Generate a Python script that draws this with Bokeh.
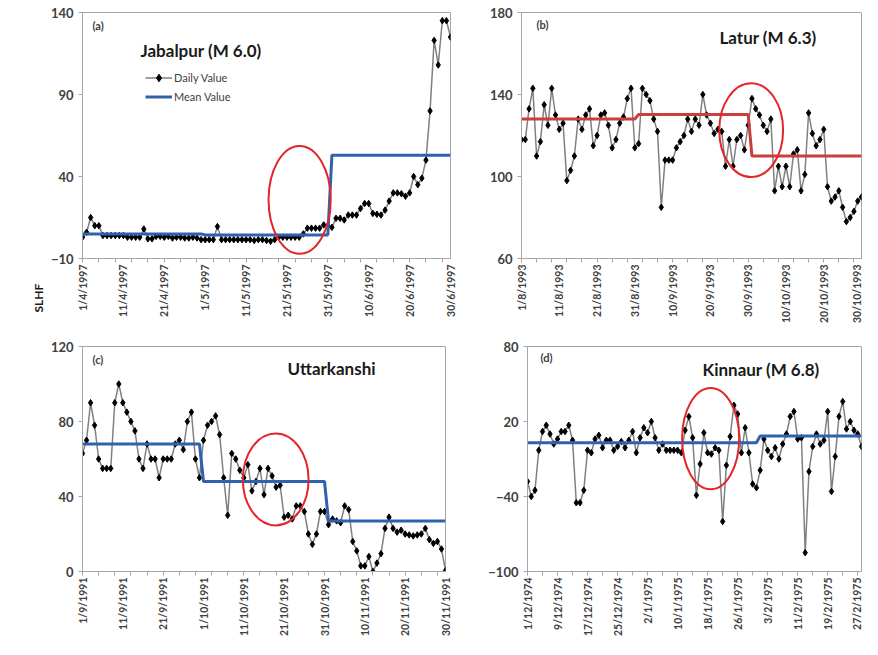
from math import pi
from bokeh.plotting import figure
from bokeh.models import Range1d, FixedTicker, Label, Legend, LegendItem, Title
from bokeh.layouts import column, row
from bokeh.embed import file_html
from bokeh.resources import INLINE

# ---------------- data ----------------
# (a) Jabalpur, 1/4/1997 - 30/6/1997
a_daily = [3, 6, 15, 10, 10, 4, 4, 4, 4, 4, 4, 3, 3, 3, 3, 8, 2, 2,
           3.5, 3.5, 3, 3.5, 2.5, 3, 3, 2.5, 2.5, 3, 2.5,
           1.5, 1.5, 1.5, 1.5, 9.5, 1.5, 1.5, 1.5, 1.5, 1.5, 1.5, 1.5,
           1.5, 1, 1.5, 1.5, 1, 0.5, 1.5, 3, 3, 3, 3, 3, 3, 5,
           8.5, 8.5, 8.5, 8.5, 10.5, 10, 9, 14.5, 14.5, 13.5, 16.5, 16.5, 16.5,
           20.5, 23.5, 23.5, 17.5, 17, 16.5, 19.5, 25, 30, 30, 29.5, 28, 30,
           40, 35, 39, 50, 80, 123, 108, 135, 135, 125]
a_mean = [5] * 30 + [4.3] * 31 + [53] * 30
a_tick_pos = [0, 10, 20, 30, 40, 50, 60, 70, 80, 90]
a_tick_labels = ["1/4/1997", "11/4/1997", "21/4/1997", "1/5/1997", "11/5/1997",
                 "21/5/1997", "31/5/1997", "10/6/1997", "20/6/1997", "30/6/1997"]
a_yticks = [-10, 40, 90, 140]
a_ellipse = [53.1, 25.8, 15.2, 65.7]

# (b) Latur, 1/8/1993 - 30/10/1993
b_daily = [118, 118, 133, 143, 110, 117, 135, 125, 143, 130, 123, 126, 98, 103, 110,
           128, 123, 130, 133, 115, 120, 130, 131, 125, 114, 118, 126, 129, 138, 143,
           114, 116, 143, 140, 137, 128, 122, 85, 108, 108, 108, 114, 117, 120, 128,
           122, 128, 125, 140, 130, 126, 121, 123, 122, 105, 118, 105, 118, 120, 113,
           125, 138, 133, 130, 125, 122, 128, 93, 105, 95, 105, 95, 111, 113, 93,
           101, 131, 121, 115, 118, 123, 95, 88, 90, 93, 85, 78, 80, 83, 88, 90]
b_mean = [128] * 31 + [130.3] * 30 + [110] * 30
b_tick_pos = [0, 10, 20, 30, 40, 50, 60, 70, 80, 90]
b_tick_labels = ["1/8/1993", "11/8/1993", "21/8/1993", "31/8/1993", "10/9/1993",
                 "20/9/1993", "30/9/1993", "10/10/1993", "20/10/1993", "30/10/1993"]
b_yticks = [60, 100, 140, 180]
b_ellipse = [60.8, 122.6, 16.9, 45.8]

# (c) Uttarkanshi, 1/9/1991 - 30/11/1991
c_daily = [63, 70, 90, 78, 60, 55, 55, 55, 90, 100, 90, 85, 80, 75, 60, 55, 68, 60, 60,
           50, 60, 60, 60, 68, 70, 65, 80, 85, 60, 50, 70, 78, 80, 83, 73, 50, 30, 63,
           60, 54, 50, 57, 43, 48, 55, 41, 55, 51, 45, 46, 29, 30, 28, 35, 35, 32, 20,
           14.5, 20, 32, 32, 25, 28, 27, 26, 35, 33, 16, 11, 3, 3, 8, 0, 4.5, 9.5, 23,
           29, 23, 21, 22, 20, 19.5, 19, 19.5, 20, 23, 17, 15, 16, 12, 0.5]
c_mean = [68] * 30 + [48] * 31 + [27] * 30
c_tick_pos = [0, 10, 20, 30, 40, 50, 60, 70, 80, 90]
c_tick_labels = ["1/9/1991", "11/9/1991", "21/9/1991", "1/10/1991", "11/10/1991",
                 "21/10/1991", "31/10/1991", "10/11/1991", "20/11/1991", "30/11/1991"]
c_yticks = [0, 40, 80, 120]
c_ellipse = [47.9, 49.1, 16.3, 49]

# (d) Kinnaur, 1/12/1974 - 28/2/1975
d_daily = [-28, -40, -35, -3, 12, 17, 10, 2, 6, 12, 12, 17, 5, -45, -45, -35, -3, -5,
           6, 9, -1, 5, 5, -3, 0, 4, -1, 5, 12, -5, 7, 15, 11, 20, 7, -3, 2, -3, -3,
           -3, -3, -5, 13, 24, 7, -39, -14, 11, -5, -6, -1, -3, -60, -15, 8, 33, 26,
           -5, 15, -5, -30, -33, -19, 6, -3, -8, -1, -10, 2, 10, 24, 28, 6, 7, -85,
           -20, 0, 10, 2, 5, 28, -36, -8, 24, 36, 14, 20, 13, 10, 0]
d_mean = [3] * 62 + [8.5] * 28
d_tick_pos = [0, 8, 16, 24, 32, 40, 48, 56, 64, 72, 80, 88]
d_tick_labels = ["1/12/1974", "9/12/1974", "17/12/1974", "25/12/1974", "2/1/1975",
                 "10/1/1975", "18/1/1975", "26/1/1975", "3/2/1975", "11/2/1975",
                 "19/2/1975", "27/2/1975"]
d_yticks = [-100, -40, 20, 80]
d_ellipse = [48.8, 6.3, 15.2, 81]

FONT = "Lato"
GRAY = "#a6a6a6"
TXT = "#404040"


def make_panel(daily, mean, tick_pos, tick_labels, yticks, ellipse, mean_color,
               width, height, mbl, mbr, mbt, mbb):
    n = len(daily)
    xs = list(range(n))
    xr = (0, n - 1)
    yr = (yticks[0], yticks[-1])
    p = figure(width=width, height=height, output_backend="svg", toolbar_location=None,
               x_range=Range1d(*xr), y_range=Range1d(*yr),
               min_border_left=mbl, min_border_right=mbr,
               min_border_top=mbt, min_border_bottom=mbb)
    p.xgrid.visible = False
    p.ygrid.visible = False
    p.outline_line_color = GRAY
    p.outline_line_width = 1
    p.background_fill_color = "white"
    p.border_fill_color = "white"

    xa = p.xaxis[0]
    xa.ticker = FixedTicker(ticks=tick_pos, minor_ticks=list(range(0, n, 4)))
    xa.major_label_overrides = {t: l for t, l in zip(tick_pos, tick_labels)}
    xa.major_label_orientation = pi / 2
    xa.major_label_text_font = FONT
    xa.major_label_text_font_style = "bold"
    xa.major_label_text_font_size = "10.5px"
    xa.major_label_text_color = TXT
    xa.major_label_standoff = 2
    xa.major_tick_line_color = None
    xa.major_tick_out = 3
    xa.major_tick_in = 0
    xa.minor_tick_line_color = GRAY
    xa.minor_tick_out = 4
    xa.minor_tick_in = 0
    xa.axis_line_color = GRAY

    ya = p.yaxis[0]
    ya.ticker = FixedTicker(ticks=yticks, minor_ticks=[])
    ya.major_label_text_font = FONT
    ya.major_label_text_font_style = "bold"
    ya.major_label_text_font_size = "13px"
    ya.major_label_text_color = TXT
    ya.major_tick_line_color = GRAY
    ya.major_tick_out = 4
    ya.major_tick_in = 0
    ya.major_label_standoff = 5
    ya.axis_line_color = GRAY

    r_line = p.line(xs, daily, line_color="#808080", line_width=1.5)
    r_pts = p.scatter(xs, daily, marker="diamond", size=6.5, fill_color="black",
                      line_color="black")
    r_mean = p.line(xs, mean, line_color=mean_color, line_width=3)
    cx, cy, w, h = ellipse
    p.ellipse(x=[cx], y=[cy], width=[w], height=[h], fill_color=None,
              line_color="#e3262b", line_width=2)

    fw = width - mbl - mbr
    fh = height - mbt - mbb

    def data_at(px, py):
        return (xr[0] + px / fw * (xr[1] - xr[0]),
                yr[1] - py / fh * (yr[1] - yr[0]))

    return p, (r_line, r_pts, r_mean), data_at, fw, fh


def add_text(p, pos, text, size, color, bold=True, angle=0, align="left"):
    p.add_layout(Label(x=pos[0], y=pos[1], text=text, text_font=FONT,
                       text_font_size=size, text_color=color,
                       text_font_style="bold" if bold else "normal",
                       text_align=align, text_baseline="middle", angle=angle))


BLUE = "#2f62ad"
RED = "#c8403c"

pa, ra, pos_a, fwa, fha = make_panel(a_daily, a_mean, a_tick_pos, a_tick_labels, a_yticks,
                                     a_ellipse, BLUE, 476, 326, 82, 26, 12, 66)
pb, rb, pos_b, fwb, fhb = make_panel(b_daily, b_mean, b_tick_pos, b_tick_labels, b_yticks,
                                     b_ellipse, RED, 386, 326, 45, 1, 12, 62)
pc, rc, pos_c, fwc, fhc = make_panel(c_daily, c_mean, c_tick_pos, c_tick_labels, c_yticks,
                                     c_ellipse, BLUE, 476, 313, 82, 31, 20, 62)
pd, rd, pos_d, fwd, fhd = make_panel(d_daily, d_mean, d_tick_pos, d_tick_labels, d_yticks,
                                     d_ellipse, BLUE, 386, 313, 51, 1, 18, 62)

add_text(pa, pos_a(10, 13), "(a)", "11px", TXT)
add_text(pa, pos_a(58, 38), "Jabalpur (M 6.0)", "17px", "#1a1a1a")
add_text(pb, pos_b(15, 12), "(b)", "11px", TXT)
add_text(pb, pos_b(198, 26), "Latur (M 6.3)", "17px", "#1a1a1a")
add_text(pc, pos_c(10, 13), "(c)", "11px", TXT)
add_text(pc, pos_c(205, 23), "Uttarkanshi", "17px", "#1a1a1a")
add_text(pd, pos_d(13, 11), "(d)", "11px", TXT)
add_text(pd, pos_d(175, 24), "Kinnaur (M 6.8)", "17px", "#1a1a1a")

# shared y label, drawn in the left margin of panel (a), shifted below its frame
pa.add_layout(Title(text="SLHF", align="left", offset=-54, text_font=FONT,
                    text_font_size="12px", text_font_style="bold",
                    text_color="#1a1a1a", standoff=4), "left")

legend = Legend(items=[LegendItem(label="Daily Value", renderers=[ra[0], ra[1]]),
                       LegendItem(label="Mean Value", renderers=[ra[2]])],
                location=(63, fha - 58 - 38), background_fill_alpha=0,
                border_line_color=None, label_text_font=FONT,
                label_text_font_size="11px", label_text_color=TXT,
                glyph_width=27, glyph_height=19, label_height=19, spacing=0,
                padding=0, margin=0, label_standoff=2)
pa.add_layout(legend)

layout = column(row(pa, pb), row(pc, pd))

with open("out.html", "w") as f:
    f.write(file_html(layout, INLINE))
